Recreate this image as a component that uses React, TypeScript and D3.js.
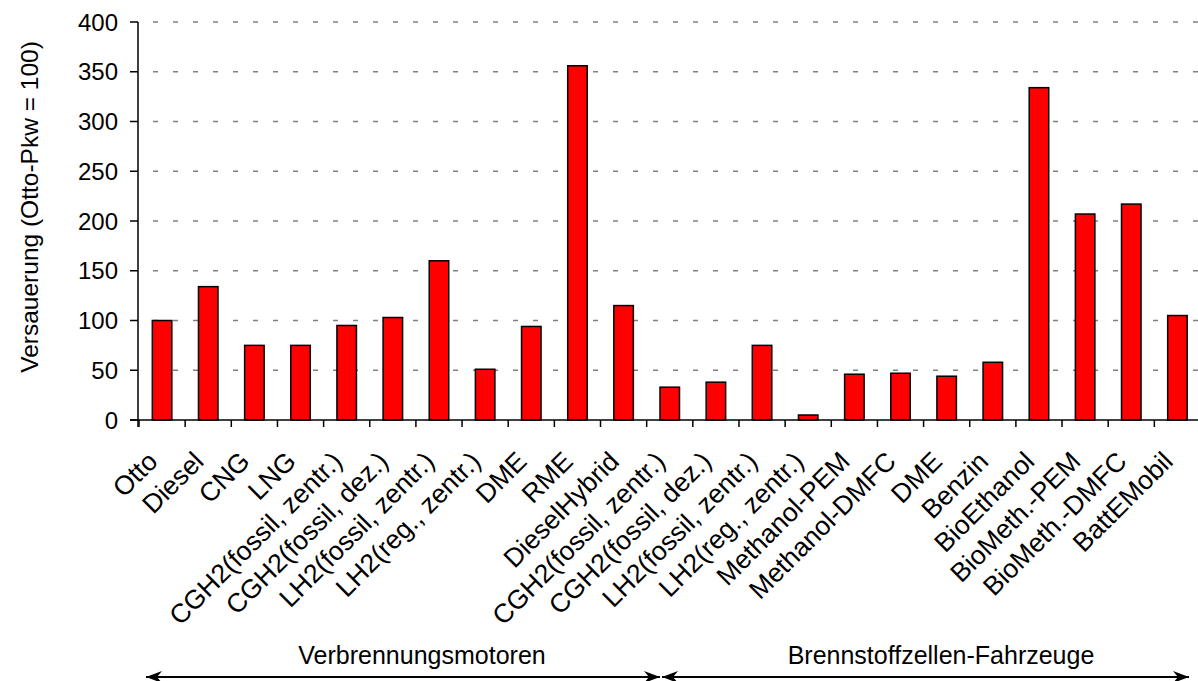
import React from "react";
import * as d3 from "d3";

// values (Otto-Pkw = 100)
const categories = [
  "Otto",
  "Diesel",
  "CNG",
  "LNG",
  "CGH2(fossil, zentr.)",
  "CGH2(fossil, dez.)",
  "LH2(fossil, zentr.)",
  "LH2(reg., zentr.)",
  "DME",
  "RME",
  "DieselHybrid",
  "CGH2(fossil, zentr.)",
  "CGH2(fossil, dez.)",
  "LH2(fossil, zentr.)",
  "LH2(reg., zentr.)",
  "Methanol-PEM",
  "Methanol-DMFC",
  "DME",
  "Benzin",
  "BioEthanol",
  "BioMeth.-PEM",
  "BioMeth.-DMFC",
  "BattEMobil",
];
const values = [
  100, 134, 75, 75, 95, 103, 160, 51, 94, 356, 115, 33, 38, 75, 5, 46, 47, 44,
  58, 334, 207, 217, 105,
];
const yTicks = [0, 50, 100, 150, 200, 250, 300, 350, 400];
const groupLabels = ["Verbrennungsmotoren", "Brennstoffzellen-Fahrzeuge"];
const yLabel = "Versauerung (Otto-Pkw = 100)";

const width = 1198;
const height = 681;
const font = "'Liberation Sans', Arial, sans-serif";

export default function App() {
  // x scale on indices, since some names repeat
  const xScale = d3
    .scaleBand<number>()
    .domain(d3.range(categories.length))
    .range([139, 1200.5])
    .padding(0);

  const yScale = d3.scaleLinear().domain([0, 400]).range([420, 22]);

  const barW = 19.5;
  const bw = xScale.bandwidth();
  const y0 = yScale(0);

  // arrows under the two groups (pixel layout)
  const arrows = [
    { x1: 146, x2: 660, tx: 422 },
    { x1: 662, x2: 1189, tx: 941 },
  ];

  return (
    <svg
      width={width}
      height={height}
      style={{ position: "fixed", left: 0, top: 0, background: "#fff" }}
      fontFamily={font}
    >
      <defs>
        <marker
          id="arr"
          viewBox="0 0 16 12"
          refX="16"
          refY="6"
          markerWidth="16"
          markerHeight="12"
          markerUnits="userSpaceOnUse"
          orient="auto-start-reverse"
        >
          <path d="M0,0 L16,6 L0,12 L5,6 Z" fill="#000" />
        </marker>
      </defs>

      {/* gridlines */}
      {yTicks
        .filter((t) => t > 0)
        .map((t) => (
          <line
            key={"g" + t}
            x1={138}
            x2={1200}
            y1={yScale(t)}
            y2={yScale(t)}
            stroke="#808080"
            strokeWidth={1.3}
            strokeDasharray="5,15"
            strokeDashoffset={-15}
          />
        ))}

      {/* bars */}
      {values.map((v, i) => (
        <rect
          key={"b" + i}
          x={xScale(i)! + (bw - barW) / 2}
          y={yScale(v)}
          width={barW}
          height={y0 - yScale(v)}
          fill="#ff0000"
          stroke="#000"
          strokeWidth={1.5}
        />
      ))}

      {/* y axis */}
      <line x1={138} x2={138} y1={yScale(400)} y2={y0 + 7} stroke="#000" strokeWidth={1.5} />
      {yTicks.map((t) => (
        <g key={"t" + t}>
          <line x1={130} x2={138} y1={yScale(t)} y2={yScale(t)} stroke="#000" strokeWidth={1.5} />
          <text
            x={118}
            y={yScale(t)}
            dy="0.36em"
            textAnchor="end"
            fontSize={24}
            fill="#000"
          >
            {t}
          </text>
        </g>
      ))}

      {/* x axis */}
      <line x1={130} x2={1200} y1={y0} y2={y0} stroke="#000" strokeWidth={1.5} />
      {d3.range(categories.length + 1).map((i) => (
        <line
          key={"xt" + i}
          x1={139 + i * bw}
          x2={139 + i * bw}
          y1={y0}
          y2={y0 + 7}
          stroke="#000"
          strokeWidth={1.5}
        />
      ))}
      {categories.map((c, i) => {
        const cx = xScale(i)! + bw / 2;
        return (
          <text
            key={"c" + i}
            transform={`translate(${cx - 3},${y0 + 43}) rotate(-45)`}
            textAnchor="end"
            fontSize={26.5}
            fill="#000"
          >
            {c}
          </text>
        );
      })}

      {/* y label */}
      <text
        transform={`translate(38,207) rotate(-90)`}
        textAnchor="middle"
        fontSize={24.5}
        fill="#000"
      >
        {yLabel}
      </text>

      {/* group labels and arrows */}
      {arrows.map((a, i) => (
        <g key={"a" + i}>
          <line
            x1={a.x1}
            x2={a.x2}
            y1={677}
            y2={677}
            stroke="#000"
            strokeWidth={1.8}
            markerStart="url(#arr)"
            markerEnd="url(#arr)"
          />
          <text x={a.tx} y={664} textAnchor="middle" fontSize={25} fill="#000">
            {groupLabels[i]}
          </text>
        </g>
      ))}
    </svg>
  );
}
